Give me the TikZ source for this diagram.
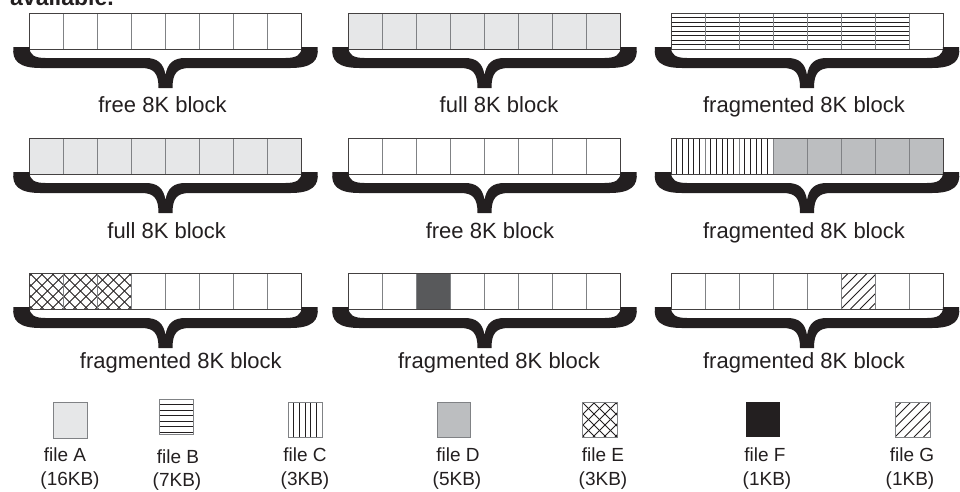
\documentclass[tikz,border=0pt]{standalone}
\usepackage{fontspec}
\setmainfont{Liberation Sans}
\definecolor{ink}{HTML}{231F20}
\definecolor{fileA}{HTML}{E6E7E8}
\definecolor{fileD}{HTML}{BCBEC0}
\definecolor{fileFblk}{HTML}{58595B}
\definecolor{fileFleg}{HTML}{231F20}
\definecolor{cellgray}{HTML}{808285}
\tikzset{
  cellline/.style={draw=cellgray, line width=0.9},
  outline/.style={draw=ink!85, line width=1},
  hatch/.style={draw=ink, line width=0.8},
  legline/.style={draw=cellgray, line width=0.9},
  bracefill/.style={fill=ink},
  lbl/.style={font=\fontsize{22}{26}\selectfont, text=ink, anchor=base, inner sep=0},
  leg/.style={font=\fontsize{19}{22}\selectfont, text=ink, anchor=base, inner sep=0},
}
\newcommand\cellrow[2]{%
  \foreach \i in {0,...,7}{\draw[cellline] ({#1+\i*34},#2) rectangle ++(34,36);}%
  \draw[outline] (#1,#2) rectangle ++(272,36);}
\newcommand\hatchH[5]{\begin{scope}\clip (#1,#2) rectangle (#3,#4);%
  \foreach \k in {1,...,14}{\draw[hatch] (#1,{#2+\k*#5}) -- (#3,{#2+\k*#5});}\end{scope}}
\newcommand\hatchV[5]{\begin{scope}\clip (#1,#2) rectangle (#3,#4);%
  \foreach \k in {1,...,40}{\draw[hatch] ({#1+\k*#5},#2) -- ({#1+\k*#5},#4);}\end{scope}}
\newcommand\hatchS[5]{\begin{scope}\clip (#1,#2) rectangle (#3,#4);%
  \foreach \k in {-6,...,14}{\draw[hatch] ({#1+\k*#5},#4) -- ++(45,-45);}\end{scope}}
\newcommand\hatchB[5]{\begin{scope}\clip (#1,#2) rectangle (#3,#4);%
  \foreach \k in {-6,...,14}{\draw[hatch] ({#1+\k*#5},#2) -- ++(45,45);}\end{scope}}
\newcommand\bigbrace[2]{\begin{scope}[shift={(#1,#2)}]
  \fill[bracefill] (-136,-2) -- (-152,-2)
    .. controls (-154,12) and (-146,19) .. (-125,19) -- (-24,19)
    .. controls (-11,19) and (-7,25) .. (-7,39) -- (7,39)
    .. controls (7,25) and (11,19) .. (24,19) -- (125,19)
    .. controls (146,19) and (154,12) .. (152,-2) -- (136,-2)
    .. controls (136,6) and (131,9) .. (120,9) -- (20,9)
    .. controls (8,9) and (2,14) .. (0,26)
    .. controls (-2,14) and (-8,9) .. (-20,9) -- (-120,9)
    .. controls (-131,9) and (-136,6) .. (-136,-2) -- cycle;
  \end{scope}}
\begin{document}
\begin{tikzpicture}[x=1pt,y=-1pt]
\useasboundingbox (0,0) rectangle (960,491);
\begin{scope}
  \clip (0,0) rectangle (960,491);
  \node[font=\bfseries\fontsize{23}{26}\selectfont, text=ink, anchor=base west, inner sep=0] (cut) at (10,5) {available.};
\end{scope}
% fills and patterns
\fill[fileA] (348.5,13) rectangle ++(272,36);
\hatchH{671}{13}{909}{49}{4.5}
\fill[fileA] (29.5,138) rectangle ++(272,36);
\hatchV{671}{138}{773}{174}{5.67}
\fill[fileD] (773,138) rectangle (943,174);
\hatchS{29.5}{273}{131.5}{309}{11}
\hatchB{29.5}{273}{131.5}{309}{11}
\fill[fileFblk] (416.5,273) rectangle ++(34,36);
\hatchS{841}{273}{875}{309}{9.5}
% cells
\cellrow{29.5}{13}\cellrow{348.5}{13}\cellrow{671}{13}
\cellrow{29.5}{138}\cellrow{348.5}{138}\cellrow{671}{138}
\cellrow{29.5}{273}\cellrow{348.5}{273}\cellrow{671}{273}
% braces
\bigbrace{165.5}{49}\bigbrace{484.5}{49}\bigbrace{807}{49}
\bigbrace{165.5}{174}\bigbrace{484.5}{174}\bigbrace{807}{174}
\bigbrace{165.5}{309}\bigbrace{484.5}{309}\bigbrace{807}{309}
% labels
\node[lbl] (l11) at (162.5,112.5) {free 8K block};
\node[lbl] (l12) at (499,112.5) {full 8K block};
\node[lbl] (l13) at (804,112.5) {fragmented 8K block};
\node[lbl] (l21) at (166.7,238) {full 8K block};
\node[lbl] (l22) at (490,238) {free 8K block};
\node[lbl] (l23) at (804,238) {fragmented 8K block};
\node[lbl] (l31) at (180.8,368) {fragmented 8K block};
\node[lbl] (l32) at (499,368) {fragmented 8K block};
\node[lbl] (l33) at (804,368) {fragmented 8K block};
% legend
\fill[fileA] (53,402) rectangle (87,438); \draw[legline] (53,402) rectangle (87,438);
\hatchH{159}{399}{193}{434}{5.5} \draw[legline] (159,399) rectangle (193,434);
\hatchV{288}{402}{322}{437}{5.67} \draw[legline] (288,402) rectangle (322,437);
\fill[fileD] (437,402) rectangle (470,437); \draw[legline] (437,402) rectangle (470,437);
\hatchS{582}{402}{617}{437}{11}\hatchB{582}{402}{617}{437}{11} \draw[legline] (582,402) rectangle (617,437);
\fill[fileFleg] (746,402) rectangle (780,437);
\hatchS{895}{402}{930}{437}{9.5} \draw[legline] (895,402) rectangle (930,437);
\node[leg] (na) at (65,461) {file A};   \node[leg] (sa) at (70,485) {(16KB)};
\node[leg] (nb) at (178,463) {file B};  \node[leg] (sb) at (177,486.5) {(7KB)};
\node[leg] (nc) at (305,461) {file C};  \node[leg] (sc) at (305,485) {(3KB)};
\node[leg] (nd) at (458,461) {file D};  \node[leg] (sd) at (457,485) {(5KB)};
\node[leg] (ne) at (603,461) {file E};  \node[leg] (se) at (603,485) {(3KB)};
\node[leg] (nf) at (765,461) {file F};  \node[leg] (sf) at (767,485) {(1KB)};
\node[leg] (ng) at (912,461) {file G};  \node[leg] (sg) at (910,485) {(1KB)};
\end{tikzpicture}
\end{document}
